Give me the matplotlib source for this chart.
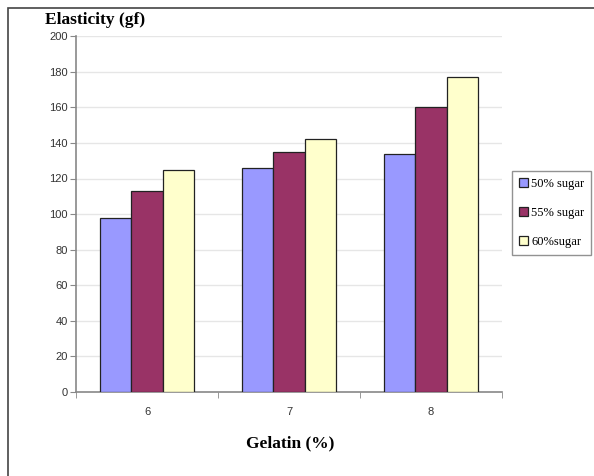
import matplotlib.pyplot as plt
from matplotlib.patches import Rectangle
import numpy as np

gelatin = ['6', '7', '8']
sugar_labels = ['50% sugar', '55% sugar', '60%sugar']
sugar50 = [98, 126, 134]
sugar55 = [113, 135, 160]
sugar60 = [125, 142, 177]

colors = ['#9999FF', '#993366', '#FFFFCC']

fig = plt.figure(figsize=(5.94, 4.76), dpi=100)
ax = fig.add_axes([0.128, 0.1765, 0.717, 0.7475])

x = np.arange(len(gelatin))
w = 0.22
for k, vals in enumerate([sugar50, sugar55, sugar60]):
    ax.bar(x + (k - 1) * w, vals, width=w, color=colors[k],
           edgecolor='#222222', linewidth=0.9, label=sugar_labels[k], zorder=3)

ax.set_xlim(-0.5, 2.5)
ax.set_ylim(0, 200)
ax.set_yticks(range(0, 201, 20))
ax.set_xticks(x)
ax.set_xticklabels(gelatin)
ax.set_xticks([-0.5, 0.5, 1.5, 2.5], minor=True)
ax.tick_params(axis='x', which='major', length=0, pad=11)
ax.tick_params(axis='x', which='minor', length=4, color='#888888')
ax.tick_params(axis='y', length=4, color='#888888', pad=2)
for label in ax.get_xticklabels() + ax.get_yticklabels():
    label.set_fontfamily('Liberation Sans')
    label.set_fontsize(8)
    label.set_color('#333333')

ax.grid(axis='y', color='#e6e6e6', linewidth=1, zorder=0)
for s in ['top', 'right']:
    ax.spines[s].set_visible(False)
for s in ['left', 'bottom']:
    ax.spines[s].set_color('#888888')
    ax.spines[s].set_linewidth(1.2)

font1 = {'family': 'Liberation Serif', 'weight': 'bold', 'size': 12.5}
fig.text(45 / 594, 1 - 20 / 476, 'Elasticity (gf)', fontdict=font1, va='center', ha='left')
fig.text(290 / 594, 1 - 443 / 476, 'Gelatin (%)', fontdict=font1, va='center', ha='center')

ax.legend(loc='upper left', bbox_to_anchor=(512 / 594, 1 - 171 / 476),
          bbox_transform=fig.transFigure, frameon=True, fancybox=False,
          edgecolor='#777777', prop={'family': 'Liberation Serif', 'size': 9},
          handlelength=0.75, handleheight=0.75, handletextpad=0.25,
          borderpad=0.55, labelspacing=1.35, borderaxespad=0)

fig.patches.append(Rectangle((8 / 594, -0.1), 1.2, 1 - 8 / 476 + 0.1,
                             transform=fig.transFigure, fill=False,
                             edgecolor='#444444', linewidth=1.2))

fig.savefig('out.png', dpi=100)
